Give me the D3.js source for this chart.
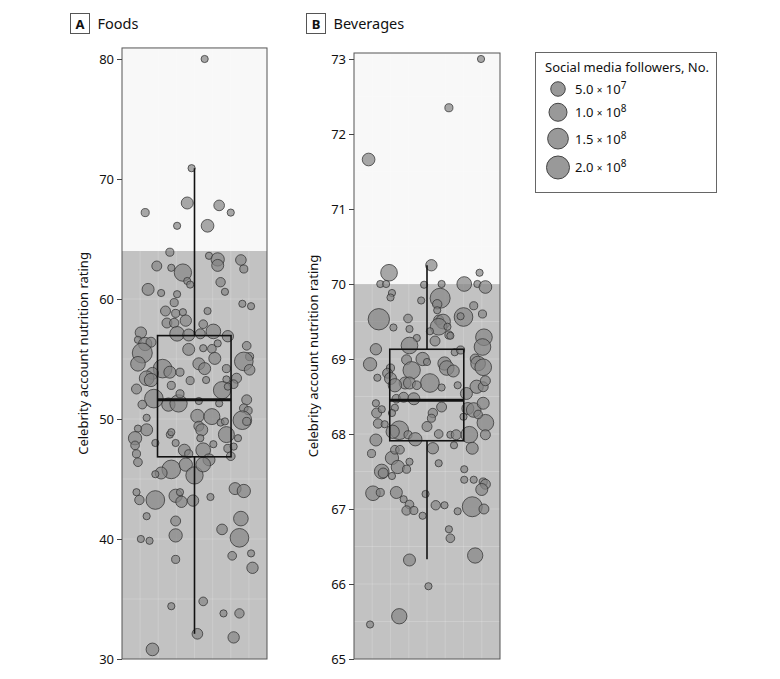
<!DOCTYPE html>
<html><head><meta charset="utf-8">
<script src="https://cdn.jsdelivr.net/npm/d3@7"></script>
<style>
body{margin:0;background:#fff}
svg{display:block}
text{font-family:"Noto Sans",sans-serif;fill:#111}
</style>
</head><body>
<svg id="chart" width="780" height="679"></svg>
<script>
// ---------- data ----------
const panelLabels = ["A", "B"];
const panelTitles = ["Foods", "Beverages"];
const yAxisTitle = "Celebrity account nutrition rating";
const yTicksFoods = [30, 40, 50, 60, 70, 80];
const yTicksBeverages = [65, 66, 67, 68, 69, 70, 71, 72, 73];
const thresholds = [64, 70];            // shaded below this rating
// box stats: [lower whisker, Q1, median, Q3, upper whisker]
const foodsBox = [32.1, 46.85, 51.6, 56.95, 70.9];
const beveragesBox = [66.33, 67.91, 68.45, 69.13, 70.25];
const legendTitle = "Social media followers, No.";
const legendFollowers = [50, 100, 150, 200];   // millions
const legendMantissa = ["5.0", "1.0", "1.5", "2.0"];
const legendExponent = ["7", "8", "8", "8"];
// points: [jitter (0-1 across panel), rating, followers (millions)]
const foodsPoints = [
[0.57,80.0,1],[0.48,70.9,1],[0.45,68.0,25],[0.67,67.8,15],[0.16,67.2,3],[0.75,67.2,1],[0.38,66.1,1],[0.59,66.1,31],[0.33,63.9,3],[0.60,63.6,1],[0.66,63.3,37],[0.66,62.8,25],[0.82,63.25,15],[0.84,62.5,3],[0.24,62.75,11],[0.34,62.6,1],[0.42,62.2,89],[0.45,61.5,1],[0.47,61.2,1],[0.68,61.4,8],[0.71,60.6,1],[0.18,60.8,25],[0.27,60.5,1],[0.38,60.4,1],[0.36,59.7,3],[0.83,59.6,1],[0.89,59.4,1],[0.59,59.0,1],[0.30,59.0,11],[0.37,58.8,3],[0.42,58.9,1],[0.31,58.0,11],[0.36,58.0,8],[0.44,58.2,20],[0.56,57.9,5],[0.63,57.3,52],[0.38,57.1,52],[0.46,57.0,25],[0.54,57.1,11],[0.73,56.9,20],[0.13,57.2,20],[0.11,56.6,1],[0.16,56.25,37],[0.20,56.4,11],[0.14,55.5,136],[0.11,54.6,52],[0.46,55.8,25],[0.56,55.9,1],[0.62,55.85,5],[0.66,56.3,1],[0.64,55.05,25],[0.86,56.1,5],[0.88,55.2,3],[0.84,54.8,111],[0.88,54.1,15],[0.53,54.6,25],[0.57,54.2,25],[0.28,54.2,111],[0.33,53.9,25],[0.40,53.9,3],[0.21,53.8,25],[0.17,53.4,52],[0.20,53.25,37],[0.72,54.2,3],[0.72,53.3,1],[0.79,53.4,11],[0.77,52.9,5],[0.47,53.2,3],[0.58,53.25,1],[0.34,52.8,3],[0.69,52.4,89],[0.10,52.5,11],[0.22,51.7,111],[0.32,51.2,37],[0.39,51.3,89],[0.40,52.1,3],[0.53,51.5,1],[0.14,51.2,5],[0.86,51.6,11],[0.84,50.9,5],[0.87,50.7,3],[0.83,49.9,111],[0.86,49.8,3],[0.67,51.3,1],[0.52,50.25,37],[0.62,50.2,69],[0.68,49.7,1],[0.53,49.4,11],[0.55,49.1,25],[0.72,48.7,69],[0.80,48.4,1],[0.17,49.1,25],[0.11,49.2,1],[0.17,50.1,1],[0.09,48.4,37],[0.09,47.8,5],[0.23,48.0,1],[0.33,48.7,1],[0.37,48.0,1],[0.43,47.4,25],[0.56,47.4,52],[0.54,48.4,1],[0.63,47.9,1],[0.60,46.6,25],[0.73,47.55,3],[0.75,46.9,5],[0.10,47.1,3],[0.11,46.4,5],[0.34,45.8,111],[0.44,46.2,37],[0.27,45.5,25],[0.23,45.4,1],[0.50,45.3,89],[0.56,46.2,52],[0.46,47.1,3],[0.77,47.7,1],[0.34,48.9,1],[0.71,49.8,1],[0.73,52.7,1],[0.78,44.2,25],[0.84,44.0,37],[0.10,43.9,1],[0.12,43.25,8],[0.23,43.25,111],[0.37,43.6,37],[0.40,43.9,1],[0.41,43.1,20],[0.49,43.2,20],[0.61,43.5,1],[0.17,41.9,1],[0.37,41.5,11],[0.82,41.7,52],[0.69,40.8,15],[0.37,40.3,37],[0.81,40.1,111],[0.13,40.0,1],[0.19,39.85,1],[0.76,38.6,5],[0.89,38.8,1],[0.90,37.6,20],[0.37,38.3,3],[0.56,34.8,5],[0.34,34.4,1],[0.70,33.8,1],[0.81,33.8,8],[0.52,32.1,15],[0.77,31.8,20],[0.21,30.8,31]
];
const beveragesPoints = [
[0.87,73.0,1],[0.65,72.35,3],[0.10,71.66,31],[0.53,70.25,20],[0.24,70.15,79],[0.86,70.15,1],[0.18,70.0,1],[0.22,70.0,1],[0.48,69.99,1],[0.60,70.0,1],[0.755,70.0,52],[0.845,70.0,1],[0.90,69.96,31],[0.26,69.88,1],[0.25,69.82,1],[0.59,69.81,136],[0.46,69.78,1],[0.57,69.73,8],[0.57,69.65,1],[0.82,69.71,3],[0.88,69.6,3],[0.75,69.56,111],[0.73,69.57,1],[0.17,69.53,163],[0.37,69.54,5],[0.27,69.42,1],[0.38,69.4,1],[0.58,69.52,11],[0.61,69.5,52],[0.58,69.43,79],[0.64,69.43,1],[0.52,69.37,1],[0.65,69.32,3],[0.66,69.31,1],[0.43,69.28,1],[0.555,69.24,11],[0.89,69.29,79],[0.88,69.16,79],[0.38,69.18,79],[0.15,69.13,20],[0.69,69.09,1],[0.73,69.12,3],[0.47,69.0,37],[0.50,68.96,1],[0.11,68.93,37],[0.36,68.99,11],[0.62,68.94,37],[0.635,68.88,52],[0.68,68.84,25],[0.83,69.0,11],[0.85,68.94,52],[0.885,68.89,79],[0.395,68.85,89],[0.25,68.88,3],[0.23,68.81,11],[0.25,68.74,25],[0.16,68.75,1],[0.52,68.68,111],[0.35,68.68,25],[0.38,68.68,25],[0.43,68.65,5],[0.28,68.65,37],[0.60,68.62,1],[0.71,68.65,1],[0.84,68.63,37],[0.885,68.63,11],[0.90,68.71,11],[0.77,68.54,25],[0.29,68.47,5],[0.34,68.49,11],[0.41,68.47,25],[0.15,68.41,1],[0.28,68.35,1],[0.155,68.28,11],[0.19,68.33,1],[0.165,68.14,8],[0.26,68.28,1],[0.21,68.13,1],[0.54,68.28,8],[0.53,68.21,3],[0.60,68.36,11],[0.50,68.1,11],[0.78,68.34,25],[0.82,68.32,52],[0.885,68.41,25],[0.90,68.15,79],[0.85,68.26,5],[0.75,68.23,1],[0.31,68.05,111],[0.265,68.03,37],[0.37,67.99,3],[0.42,67.93,37],[0.58,68.0,5],[0.66,67.99,1],[0.70,67.99,11],[0.79,67.99,79],[0.90,67.99,11],[0.15,67.92,25],[0.12,67.74,3],[0.26,67.68,37],[0.28,67.79,5],[0.315,67.79,5],[0.38,67.63,1],[0.54,67.81,20],[0.58,67.61,1],[0.685,67.85,1],[0.81,67.81,25],[0.30,67.56,37],[0.36,67.53,3],[0.19,67.5,52],[0.20,67.48,11],[0.26,67.44,1],[0.755,67.53,1],[0.755,67.39,1],[0.82,67.39,1],[0.885,67.36,3],[0.90,67.33,11],[0.875,67.26,25],[0.13,67.21,52],[0.18,67.22,3],[0.29,67.22,25],[0.34,67.13,1],[0.38,67.06,5],[0.36,66.98,8],[0.41,66.98,3],[0.49,67.2,1],[0.47,66.91,1],[0.56,67.05,8],[0.62,67.05,1],[0.71,66.97,1],[0.81,67.03,136],[0.89,67.0,11],[0.65,66.73,1],[0.66,66.61,5],[0.38,66.32,25],[0.83,66.38,60],[0.51,65.97,1],[0.31,65.57,60],[0.11,65.46,1]
];

// ---------- drawing ----------
const svg = d3.select("#chart");
const rScale = d3.scaleSqrt().domain([0, 200]).range([3, 11.5]);

const panels = [
  {label: panelLabels[0], title: panelTitles[0], points: foodsPoints, box: foodsBox,
   ticks: yTicksFoods, thr: thresholds[0], domain: [30, 80], minor: 5, top: 80.92,
   x0: 122, x1: 267, labelX: 70.5, titleAxisX: 88},
  {label: panelLabels[1], title: panelTitles[1], points: beveragesPoints, box: beveragesBox,
   ticks: yTicksBeverages, thr: thresholds[1], domain: [65, 73], minor: 0.5, top: 73.08,
   x0: 354, x1: 500, labelX: 306.5, titleAxisX: 318}
];

panels.forEach((p, pi) => {
  const y = d3.scaleLinear().domain(p.domain).range([659, 59]);
  const x = d3.scaleLinear().domain([0, 1]).range([p.x0, p.x1]);
  const g = svg.append("g");
  const yTop = y(p.top), yBot = y(p.domain[0]);

  // backgrounds
  g.append("rect").attr("x", p.x0).attr("y", yTop).attr("width", p.x1 - p.x0)
    .attr("height", yBot - yTop).attr("fill", "#f8f8f8");
  g.append("rect").attr("x", p.x0).attr("y", y(p.thr)).attr("width", p.x1 - p.x0)
    .attr("height", yBot - y(p.thr)).attr("fill", "#c2c2c2");

  // gridlines
  const hLines = d3.range(p.domain[0], p.domain[1] + 1e-9, p.minor);
  g.selectAll(".hg").data(hLines).join("line")
    .attr("x1", p.x0).attr("x2", p.x1).attr("y1", d => y(d)).attr("y2", d => y(d))
    .attr("stroke", "#fff").attr("stroke-opacity", 0.18).attr("stroke-width", 1.2);
  g.selectAll(".vg").data(d3.range(1, 8).map(i => i / 8)).join("line")
    .attr("x1", d => x(d)).attr("x2", d => x(d)).attr("y1", yTop).attr("y2", yBot)
    .attr("stroke", "#fff").attr("stroke-opacity", 0.15).attr("stroke-width", 1.2);

  // points
  g.selectAll("circle.pt").data(p.points).join("circle").attr("class", "pt")
    .attr("cx", d => x(d[0])).attr("cy", d => y(d[1])).attr("r", d => rScale(d[2]))
    .attr("fill", "#858585").attr("fill-opacity", 0.7)
    .attr("stroke", "#333").attr("stroke-opacity", 0.85).attr("stroke-width", 0.9);

  // box plot
  const [lo, q1, med, q3, hi] = p.box;
  const bx0 = x(0.245), bx1 = x(0.752), cx = x(0.5);
  g.append("line").attr("x1", cx).attr("x2", cx).attr("y1", y(hi)).attr("y2", y(q3))
    .attr("stroke", "#111").attr("stroke-width", 1.6);
  g.append("line").attr("x1", cx).attr("x2", cx).attr("y1", y(q1)).attr("y2", y(lo))
    .attr("stroke", "#111").attr("stroke-width", 1.6);
  g.append("rect").attr("x", bx0).attr("y", y(q3)).attr("width", bx1 - bx0)
    .attr("height", y(q1) - y(q3)).attr("fill", "none").attr("stroke", "#111").attr("stroke-width", 1.6);
  g.append("line").attr("x1", bx0).attr("x2", bx1).attr("y1", y(med)).attr("y2", y(med))
    .attr("stroke", "#111").attr("stroke-width", 3);

  // border
  g.append("rect").attr("x", p.x0).attr("y", yTop).attr("width", p.x1 - p.x0)
    .attr("height", yBot - yTop).attr("fill", "none").attr("stroke", "#555").attr("stroke-width", 1);

  // axis
  const ax = g.append("g").attr("transform", `translate(${p.x0},0)`)
    .call(d3.axisLeft(y).tickValues(p.ticks).tickSize(5).tickPadding(3).tickFormat(d3.format("d")));
  ax.select(".domain").remove();
  ax.selectAll(".tick line").attr("stroke", "#444");
  ax.selectAll(".tick text").style("font-family", '"Noto Sans",sans-serif').style("font-size", "13px").attr("fill", "#111");

  // axis title
  g.append("text").attr("transform", `translate(${p.titleAxisX},${(yTop + yBot) / 2}) rotate(-90)`)
    .attr("text-anchor", "middle").style("font-size", "13px").text(yAxisTitle);

  // panel label
  g.append("rect").attr("x", p.labelX).attr("y", 13.5).attr("width", 19).attr("height", 20)
    .attr("fill", "#fff").attr("stroke", "#555").attr("stroke-width", 1);
  g.append("text").attr("x", p.labelX + 9.5).attr("y", 28.5).attr("text-anchor", "middle")
    .style("font-size", "13px").style("font-weight", "bold").text(p.label);
  g.append("text").attr("x", p.labelX + 27).attr("y", 28.5)
    .style("font-size", "14.5px").text(p.title);
});

// legend
const lg = svg.append("g");
lg.append("rect").attr("x", 535.5).attr("y", 52.5).attr("width", 181).attr("height", 140)
  .attr("fill", "#fff").attr("stroke", "#666").attr("stroke-width", 1);
lg.append("text").attr("x", 545).attr("y", 72).style("font-size", "13px").text(legendTitle);
let cy = 89;
const cys = legendFollowers.map((f, i) => {
  if (i > 0) cy += rScale(legendFollowers[i - 1]) + rScale(f) + 7;
  return cy;
});
legendFollowers.forEach((f, i) => {
  lg.append("circle").attr("cx", 558).attr("cy", cys[i]).attr("r", rScale(f))
    .attr("fill", "#999").attr("stroke", "#444").attr("stroke-width", 1);
  const t = lg.append("text").attr("x", 575).attr("y", cys[i] + 5).style("font-size", "13px");
  t.append("tspan").text(legendMantissa[i] + " ");
  t.append("tspan").style("font-size", "10px").text("\u00d7");
  t.append("tspan").text(" 10");
  t.append("tspan").attr("dy", -5).style("font-size", "10px").text(legendExponent[i]);
});
</script>
</body></html>
